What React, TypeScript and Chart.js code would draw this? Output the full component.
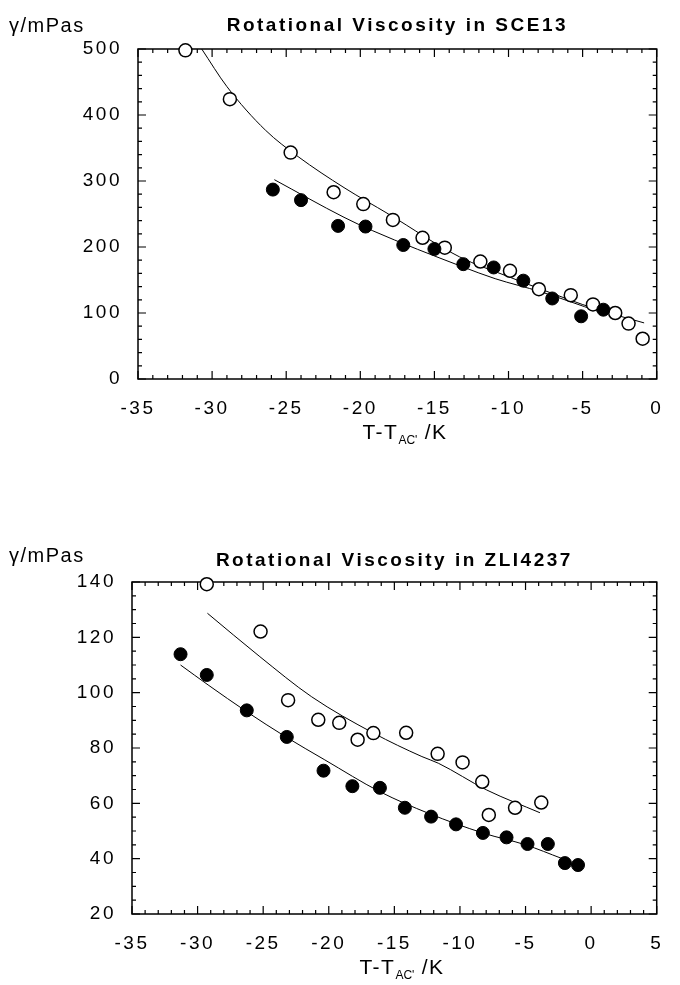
import React, { useEffect, useRef } from 'react';
import { Chart, registerables } from 'chart.js';
Chart.register(...registerables);

// ---------- Top chart: SCE13 ----------
const sceTitle = 'Rotational Viscosity in SCE13';
const sceOpenT = [-31.8, -28.8, -24.7, -21.8, -19.8, -17.8, -15.8, -14.3, -11.9, -9.9, -7.95, -5.8, -4.3, -2.8, -1.9, -0.95];
const sceOpenVisc = [498, 424, 343, 283, 265, 241, 214, 199, 178, 164, 136, 127, 113, 100, 84, 61];
const sceFilledT = [-25.9, -24.0, -21.5, -19.65, -17.1, -15.0, -13.05, -11.0, -9.0, -7.05, -5.1, -3.6];
const sceFilledVisc = [287, 271, 232, 231, 203, 197, 174, 169, 149, 122, 95, 105];
const sceOpenFitT = [-30.7, -29.0, -26.4, -24.2, -21.1, -18.1, -13.3, -10.0, -7.8, -4.1, -0.85];
const sceOpenFitVisc = [500, 443, 377, 337, 290, 250, 185, 155, 136, 106, 85];
const sceFilledFitT = [-25.8, -21.1, -19.2, -13.1, -10.9, -7.8, -3.9];
const sceFilledFitVisc = [302, 245, 225, 170, 152, 132, 102];
const sceXTicks = { min: -35, max: 0, major: 5, minor: 1 };
const sceYTicks = { min: 0, max: 500, major: 100, minor: 20 };

// ---------- Bottom chart: ZLI4237 ----------
const zliTitle = 'Rotational Viscosity in ZLI4237';
const zliOpenT = [-29.3, -25.2, -23.1, -20.8, -19.2, -17.8, -16.6, -14.1, -11.7, -9.8, -8.3, -7.8, -5.8, -3.8];
const zliOpenVisc = [139.2, 122.1, 97.3, 90.2, 89.1, 83.0, 85.4, 85.5, 77.9, 74.8, 67.8, 55.8, 58.4, 60.3];
const zliFilledT = [-31.3, -29.3, -26.25, -23.2, -20.4, -18.2, -16.1, -14.2, -12.2, -10.3, -8.25, -6.45, -4.85, -3.3, -2.0, -1.0];
const zliFilledVisc = [113.9, 106.4, 93.6, 84.0, 71.8, 66.2, 65.6, 58.4, 55.2, 52.4, 49.3, 47.7, 45.3, 45.3, 38.4, 37.7];
const zliOpenFitT = [-29.25, -25.25, -21.3, -16.6, -12.9, -11.65, -7.95, -3.9];
const zliOpenFitVisc = [128.7, 113, 98.5, 85.4, 76.9, 74.5, 64.8, 56.6];
const zliFilledFitT = [-31.3, -29.2, -26.25, -23.3, -20.3, -16.1, -12.4, -8.2, -5.0, -2.25];
const zliFilledFitVisc = [110, 102.8, 93.1, 84.1, 75.7, 64.2, 56.4, 49.2, 45, 40.1];
const zliXTicks = { min: -35, max: 5, major: 5, minor: 1 };
const zliYTicks = { min: 20, max: 140, major: 20, minor: 5 };

const FONT = '"Liberation Sans", Arial, Helvetica, sans-serif';

const toXY = (xs: number[], ys: number[]) => xs.map((x, i) => ({ x, y: ys[i] }));

const frameTicksPlugin = {
  id: 'frameTicks',
  beforeDatasetsDraw(chart: any, _args: any, opts: any) {
    const { ctx, chartArea } = chart;
    const { left, right, top, bottom } = chartArea;
    const xs = chart.scales.x;
    const ys = chart.scales.y;
    ctx.save();
    ctx.letterSpacing = '0px';
    ctx.strokeStyle = '#000';
    ctx.lineWidth = 1.5;
    ctx.strokeRect(left, top, right - left, bottom - top);
    ctx.lineWidth = 1.2;
    ctx.beginPath();
    const xt = opts.xTicks;
    const nx = Math.round((xt.max - xt.min) / xt.minor);
    for (let i = 0; i <= nx; i++) {
      const v = xt.min + i * xt.minor;
      const isMajor = Math.abs(v / xt.major - Math.round(v / xt.major)) < 1e-6;
      const len = isMajor ? 8 : 4;
      const px = xs.getPixelForValue(v);
      ctx.moveTo(px, bottom);
      ctx.lineTo(px, bottom - len);
      ctx.moveTo(px, top);
      ctx.lineTo(px, top + len);
    }
    const yt = opts.yTicks;
    const ny = Math.round((yt.max - yt.min) / yt.minor);
    for (let i = 0; i <= ny; i++) {
      const v = yt.min + i * yt.minor;
      const isMajor = Math.abs(v / yt.major - Math.round(v / yt.major)) < 1e-6;
      const len = isMajor ? 8 : 4;
      const py = ys.getPixelForValue(v);
      ctx.moveTo(left, py);
      ctx.lineTo(left + len, py);
      ctx.moveTo(right, py);
      ctx.lineTo(right - len, py);
    }
    ctx.stroke();
    ctx.restore();
  },
};

const spacingPlugin = {
  id: 'letterSpacing',
  beforeDraw(chart: any, _a: any, opts: any) {
    chart.ctx.letterSpacing = (opts && opts.value) || '0px';
  },
  afterDraw(chart: any) {
    chart.ctx.letterSpacing = '0px';
  },
};

type Cfg = {
  title: string;
  openT: number[]; openV: number[];
  filledT: number[]; filledV: number[];
  openFitT: number[]; openFitV: number[];
  filledFitT: number[]; filledFitV: number[];
  xTicks: { min: number; max: number; major: number; minor: number };
  yTicks: { min: number; max: number; major: number; minor: number };
  axisLeft: number; axisHeight: number; padRight: number;
  titlePadTop: number; titlePadBottom: number;
};

function ViscChart({ cfg, width, height }: { cfg: Cfg; width: number; height: number }) {
  const ref = useRef<HTMLCanvasElement | null>(null);
  useEffect(() => {
    if (!ref.current) return;
    const lineDs = (xs: number[], ys: number[]) => ({
      data: toXY(xs, ys),
      showLine: true,
      borderColor: '#000',
      borderWidth: 1,
      pointRadius: 0,
      cubicInterpolationMode: 'monotone',
      fill: false,
      clip: false,
    });
    const chart = new Chart(ref.current, {
      type: 'scatter',
      data: {
        datasets: [
          {
            data: toXY(cfg.filledT, cfg.filledV),
            pointRadius: 6.5,
            pointBackgroundColor: '#000',
            pointBorderColor: '#000',
            pointBorderWidth: 1,
            showLine: false,
            clip: false,
          } as any,
          {
            data: toXY(cfg.openT, cfg.openV),
            pointRadius: 6.5,
            pointBackgroundColor: '#fff',
            pointBorderColor: '#000',
            pointBorderWidth: 1.5,
            showLine: false,
            clip: false,
          } as any,
          lineDs(cfg.openFitT, cfg.openFitV) as any,
          lineDs(cfg.filledFitT, cfg.filledFitV) as any,
        ],
      },
      options: {
        responsive: false,
        animation: false,
        events: [],
        layout: { padding: { left: 0, right: cfg.padRight, top: 0, bottom: 0 } },
        plugins: {
          legend: { display: false },
          tooltip: { enabled: false },
          title: {
            display: true,
            text: cfg.title,
            fullSize: false,
            color: '#000',
            font: { family: FONT, size: 19, weight: 'bold', lineHeight: 1.2 },
            padding: { top: cfg.titlePadTop, bottom: cfg.titlePadBottom },
          },
          frameTicks: { xTicks: cfg.xTicks, yTicks: cfg.yTicks },
          letterSpacing: { value: '2.5px' },
        } as any,
        scales: {
          x: {
            type: 'linear',
            min: cfg.xTicks.min,
            max: cfg.xTicks.max,
            grid: { display: false, drawTicks: false },
            border: { display: false },
            ticks: {
              stepSize: cfg.xTicks.major,
              color: '#000',
              padding: 18,
              maxRotation: 0,
              font: { family: FONT, size: 19 },
            },
            afterFit: (s: any) => { s.height = cfg.axisHeight; },
          },
          y: {
            type: 'linear',
            min: cfg.yTicks.min,
            max: cfg.yTicks.max,
            grid: { display: false, drawTicks: false },
            border: { display: false },
            ticks: {
              stepSize: cfg.yTicks.major,
              color: '#000',
              padding: 16,
              font: { family: FONT, size: 19 },
            },
            afterFit: (s: any) => { s.width = cfg.axisLeft; },
          },
        },
      } as any,
      plugins: [frameTicksPlugin as any, spacingPlugin as any],
    });
    return () => chart.destroy();
  }, [cfg]);
  return <canvas ref={ref} width={width} height={height} style={{ display: 'block', width, height }} />;
}

const sceCfg: Cfg = {
  title: sceTitle,
  openT: sceOpenT, openV: sceOpenVisc,
  filledT: sceFilledT, filledV: sceFilledVisc,
  openFitT: sceOpenFitT, openFitV: sceOpenFitVisc,
  filledFitT: sceFilledFitT, filledFitV: sceFilledFitVisc,
  xTicks: sceXTicks, yTicks: sceYTicks,
  axisLeft: 138, axisHeight: 101, padRight: 7,
  titlePadTop: 14, titlePadBottom: 12.2,
};

const zliCfg: Cfg = {
  title: zliTitle,
  openT: zliOpenT, openV: zliOpenVisc,
  filledT: zliFilledT, filledV: zliFilledVisc,
  openFitT: zliOpenFitT, openFitV: zliOpenFitVisc,
  filledFitT: zliFilledFitT, filledFitV: zliFilledFitVisc,
  xTicks: zliXTicks, yTicks: zliYTicks,
  axisLeft: 132, axisHeight: 71, padRight: 9,
  titlePadTop: 49, titlePadBottom: 10.2,
};

const labelStyle: React.CSSProperties = {
  position: 'absolute',
  fontFamily: FONT,
  fontSize: 20,
  lineHeight: '24px',
  color: '#000',
  whiteSpace: 'nowrap',
  letterSpacing: '1.5px',
};

function XTitle({ cx, cy }: { cx: number; cy: number }) {
  return (
    <div style={{ ...labelStyle, fontSize: 21, left: cx, top: cy - 12, transform: 'translateX(-50%)' }}>
      T-T<sub style={{ fontSize: 12, verticalAlign: '-5px', letterSpacing: 0 }}>AC'</sub> /K
    </div>
  );
}

export default function App() {
  return (
    <div style={{ position: 'absolute', left: 0, top: 0, width: 680, height: 985, background: '#fff', overflow: 'hidden' }}>
      <div style={{ position: 'absolute', left: 0, top: 0 }}>
        <ViscChart cfg={sceCfg} width={680} height={480} />
      </div>
      <div style={{ position: 'absolute', left: 0, top: 500 }}>
        <ViscChart cfg={zliCfg} width={680} height={485} />
      </div>
      <div style={{ ...labelStyle, left: 9, top: 13 }}>γ/mPas</div>
      <XTitle cx={405} cy={432} />
      <div style={{ ...labelStyle, left: 9, top: 543 }}>γ/mPas</div>
      <XTitle cx={402} cy={967} />
    </div>
  );
}
